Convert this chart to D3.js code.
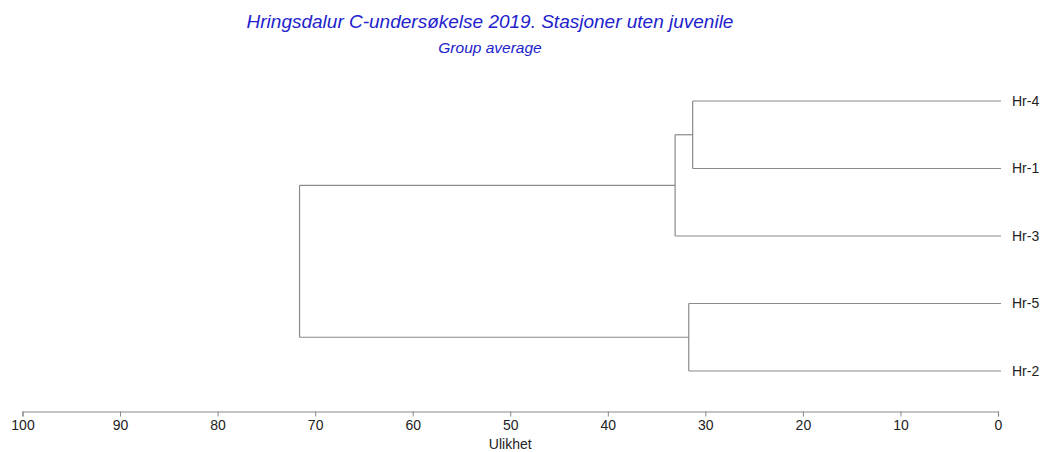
<!DOCTYPE html>
<html><head><meta charset="utf-8">
<script src="https://cdn.jsdelivr.net/npm/d3@7"></script>
<style>body{margin:0;background:#fff}svg{display:block}text{font-family:Arial,"Liberation Sans",sans-serif}</style>
</head><body><svg id="c" width="1046" height="452"></svg>
<script>
const leaves = ["Hr-4","Hr-1","Hr-3","Hr-5","Hr-2"];
// hclust-style merges: negative = leaf index (1-based), positive = earlier merge (1-based)
const mergeA = [-1, 1, -4, 2];
const mergeB = [-2, -3, -5, 3];
const mergeHeight = [31.3, 33.1, 31.7, 71.6];
const ticks = [100,90,80,70,60,50,40,30,20,10,0];
const title = "Hringsdalur C-undersøkelse 2019. Stasjoner uten juvenile";
const subtitle = "Group average";
const xLabel = "Ulikhet";

const svg = d3.select("#c");
const x = d3.scaleLinear().domain([100,0]).range([22.5,998]);
const y = d3.scalePoint().domain(leaves).range([101,371]);

const nodes = [];
function nodeOf(ref){
  if(ref<0){ const name=leaves[-ref-1]; return {h:0, y:y(name), name}; }
  return nodes[ref-1];
}
for(let i=0;i<mergeA.length;i++){
  const a=nodeOf(mergeA[i]), b=nodeOf(mergeB[i]);
  nodes.push({h:mergeHeight[i], y:(a.y+b.y)/2, children:[a,b]});
}
const lineColor="#8a8a8a";
const g=svg.append("g");
nodes.forEach(n=>{
  const px=x(n.h);
  g.append("line").attr("x1",px).attr("x2",px).attr("y1",n.children[0].y).attr("y2",n.children[1].y)
    .attr("stroke",lineColor).attr("stroke-width",1.2);
  n.children.forEach(c=>{
    const cx = c.children? x(c.h) : x(0)+3;
    g.append("line").attr("x1",px).attr("x2",cx).attr("y1",c.y).attr("y2",c.y)
      .attr("stroke",lineColor).attr("stroke-width",1.2);
  });
});
g.selectAll("text.leaf").data(leaves).enter().append("text")
  .attr("x",x(0)+14).attr("y",d=>y(d)).attr("dy","0.35em")
  .attr("font-size",14).attr("fill","#222").text(d=>d);

const axis = d3.axisBottom(x).tickValues(ticks).tickSize(5).tickPadding(4).tickFormat(d3.format("d"));
const ax = svg.append("g").attr("transform","translate(0,411.5)").call(axis);
ax.select(".domain").attr("stroke",lineColor).attr("stroke-width",1.2);
ax.selectAll(".tick line").attr("stroke",lineColor);
ax.selectAll(".tick text").attr("font-size",14).attr("fill","#222").attr("font-family","Arial, 'Liberation Sans', sans-serif");
svg.append("text").attr("x",x(50)).attr("y",449).attr("text-anchor","middle")
  .attr("font-size",14).attr("fill","#222").text(xLabel);

svg.append("text").attr("x",490).attr("y",28).attr("text-anchor","middle")
  .attr("font-size",19).attr("font-style","italic").attr("fill","#2222cc").text(title);
svg.append("text").attr("x",490).attr("y",53).attr("text-anchor","middle")
  .attr("font-size",15.5).attr("font-style","italic").attr("fill","#2222cc").text(subtitle);
</script></body></html>
